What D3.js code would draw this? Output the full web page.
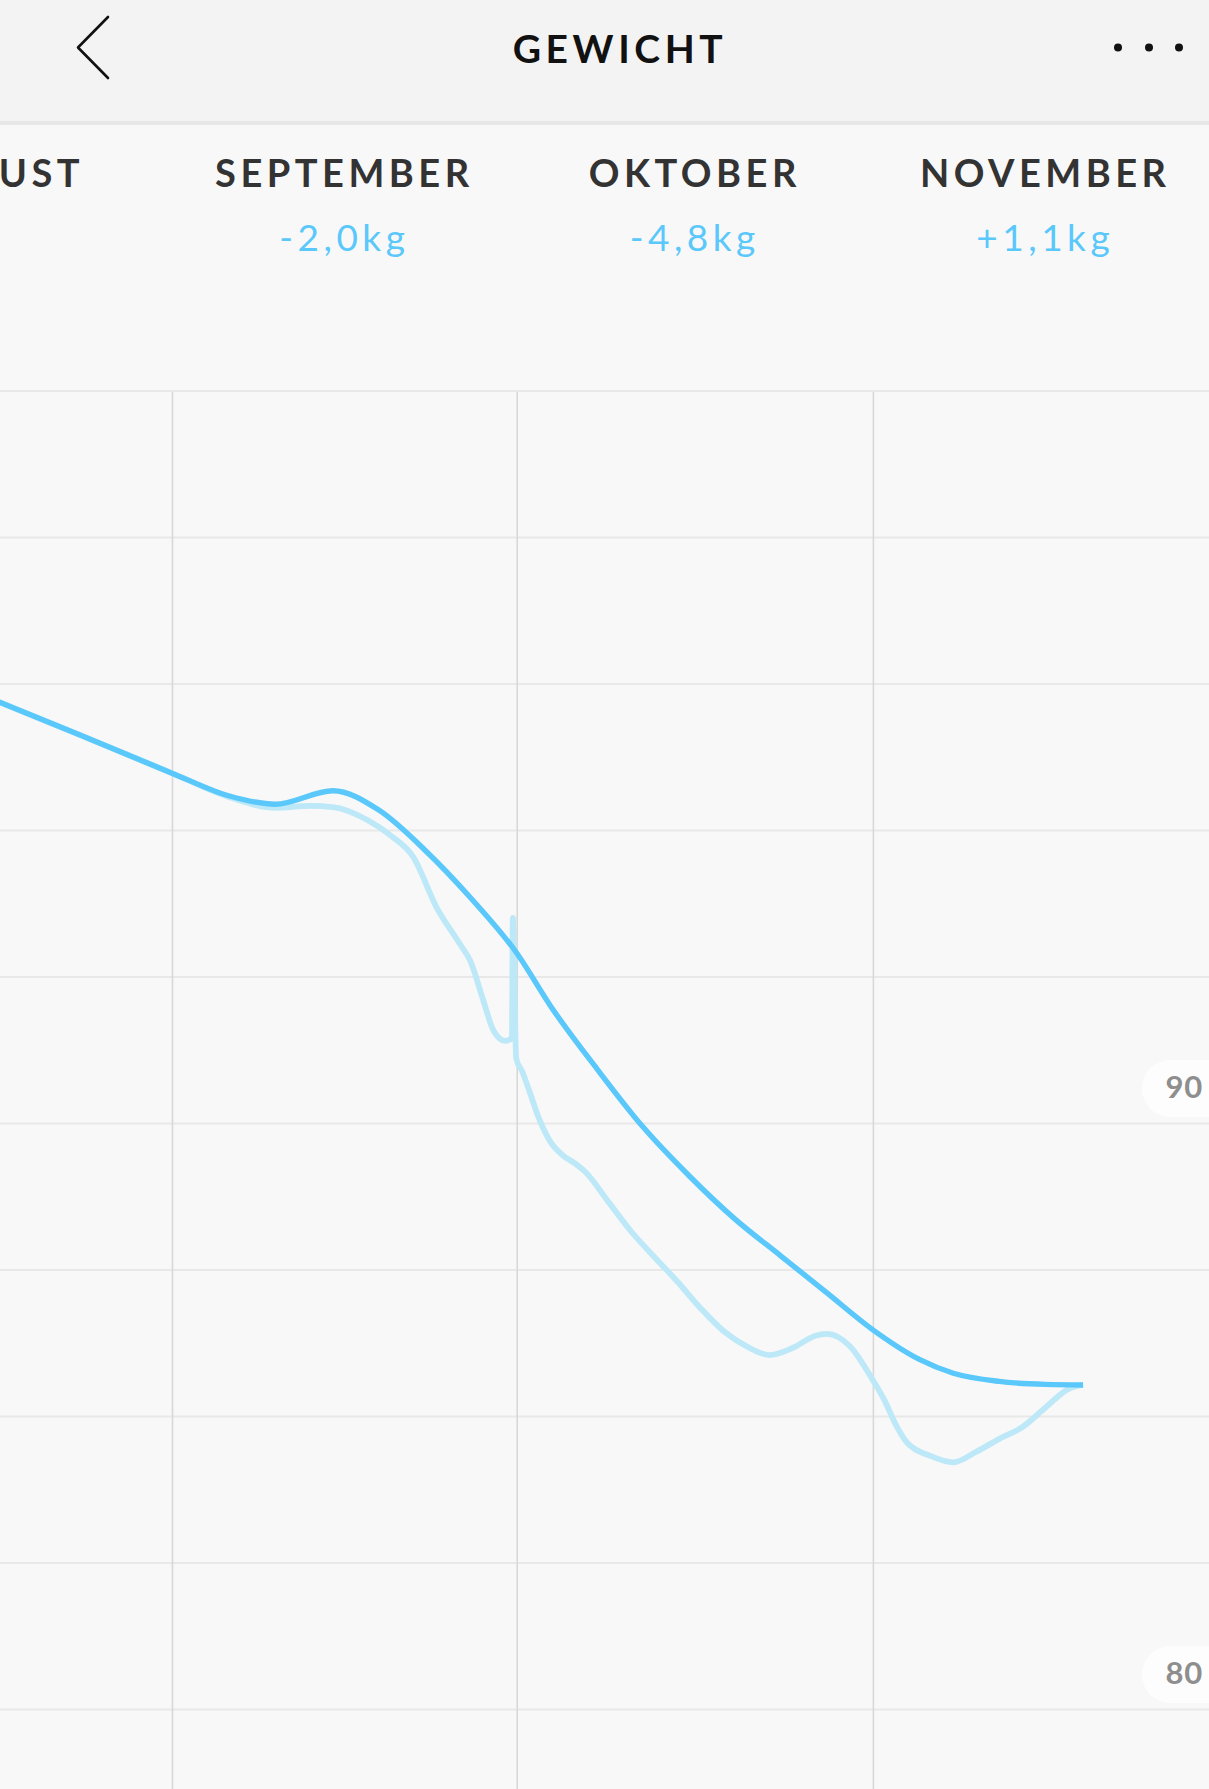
<!DOCTYPE html>
<html>
<head>
<meta charset="utf-8">
<script src="https://cdn.jsdelivr.net/npm/d3@7"></script>
<style>
  html, body {margin: 0; padding: 0; background: #f8f8f8; overflow: hidden;}
  svg {display: block;}
</style>
</head>
<body>
<div id="chart"></div>
<script>
// months shown in the header strip
const months = ["AUGUST", "SEPTEMBER", "OKTOBER", "NOVEMBER"]
const month_starts = ["2018-08-01", "2018-09-01", "2018-10-01", "2018-11-01"]
const month_deltas = ["", "-2,0kg", "-4,8kg", "+1,1kg"]

// y grid every 2.5 kg, labels every 10
const y_grid_ticks = [77.5, 80, 82.5, 85, 87.5, 90, 92.5, 95, 97.5, 100, 102.5]
const y_label_ticks = [80, 90]

// trend line (dark)
const trend_dates = ["2018-08-14", "2018-08-24", "2018-09-01", "2018-09-06", "2018-09-10", "2018-09-15",
  "2018-09-19", "2018-09-23", "2018-09-27", "2018-10-01", "2018-10-04", "2018-10-08", "2018-10-12",
  "2018-10-16", "2018-10-20", "2018-10-24", "2018-10-28", "2018-11-01", "2018-11-05", "2018-11-08",
  "2018-11-12", "2018-11-16", "2018-11-19 07:00"]
const trend_values = [97.42, 96.62, 95.97, 95.58, 95.44, 95.67,
  95.34, 94.66, 93.84, 92.90, 91.98, 90.92, 89.93,
  89.10, 88.36, 87.73, 87.10, 86.47, 85.97, 85.73,
  85.59, 85.54, 85.53]

// measured weight (light)
const weight_dates = ["2018-08-14", "2018-08-24", "2018-09-01", "2018-09-06", "2018-09-10", "2018-09-13",
  "2018-09-15", "2018-09-18", "2018-09-20", "2018-09-22", "2018-09-24", "2018-09-26", "2018-09-27",
  "2018-09-28", "2018-09-29", "2018-09-30", "2018-09-30 14:00", "2018-09-30 16:00", "2018-09-30 23:00",
  "2018-10-01 12:00", "2018-10-02", "2018-10-03", "2018-10-04", "2018-10-05", "2018-10-06", "2018-10-07",
  "2018-10-09", "2018-10-11", "2018-10-13", "2018-10-15", "2018-10-17", "2018-10-19", "2018-10-21",
  "2018-10-23", "2018-10-25", "2018-10-27", "2018-10-28", "2018-10-30", "2018-11-01", "2018-11-02",
  "2018-11-03", "2018-11-04", "2018-11-06", "2018-11-08", "2018-11-10", "2018-11-12", "2018-11-14",
  "2018-11-16", "2018-11-18", "2018-11-19 07:00"]
const weight_values = [97.42, 96.62, 95.97, 95.56, 95.38, 95.41,
  95.39, 95.17, 94.91, 94.54, 93.69, 93.07, 92.75,
  92.15, 91.57, 91.40, 91.45, 93.50, 91.10,
  90.87, 90.60, 90.05, 89.66, 89.45, 89.32, 89.16,
  88.65, 88.14, 87.71, 87.29, 86.84, 86.45, 86.19,
  86.04, 86.16, 86.37, 86.40, 86.19, 85.61, 85.27,
  84.85, 84.54, 84.32, 84.21, 84.39, 84.61, 84.81,
  85.14, 85.46, 85.53]

const width = 1209, height = 1789,
  header_h = 121,
  plot_top = 392,
  blue = "#5ac8fa",
  blue_light = "#bde8f8",
  font = "Lato, 'Open Sans', sans-serif"

const parseDate = s => d3.utcParse(s.length > 10 ? "%Y-%m-%d %H:%M" : "%Y-%m-%d")(s)

const x = d3.scaleUtc()
  .domain([parseDate("2018-09-01"), parseDate("2018-12-01")])
  .range([172, 1217.6])

const y = d3.scaleLinear()
  .domain([80, 90])
  .range([1709, 1123])

const svg = d3.select("#chart").append("svg")
  .attr("width", width)
  .attr("height", height)

svg.append("rect").attr("width", width).attr("height", height).attr("fill", "#f8f8f8")

drawGrid()
drawLines()
drawYLabels()
drawMonthStrip()
drawHeader()

function drawHeader() {
  const g = svg.append("g").attr("class", "header")
  g.append("rect").attr("width", width).attr("height", header_h).attr("fill", "#f3f3f3")
  g.append("rect").attr("y", header_h).attr("width", width).attr("height", 4).attr("fill", "#e7e7e7")

  g.append("path")
    .attr("d", "M108,17 L78,47.5 L108,78")
    .attr("fill", "none").attr("stroke", "#111").attr("stroke-width", 2.6)
    .attr("stroke-linejoin", "round").attr("stroke-linecap", "round")

  g.append("text")
    .attr("x", 620).attr("y", 63)
    .attr("text-anchor", "middle")
    .style("font-family", font).style("font-weight", 700).style("font-size", "39px")
    .style("letter-spacing", "4.6px")
    .attr("fill", "#111")
    .text("GEWICHT")

  g.selectAll("circle.dot").data([1118, 1149, 1179]).enter().append("circle")
    .attr("class", "dot")
    .attr("cx", d => d).attr("cy", 47.5).attr("r", 4)
    .attr("fill", "#111")
}

function drawMonthStrip() {
  const g = svg.append("g").attr("class", "months"),
    starts = month_starts.map(parseDate),
    centers = starts.map(d => (x(d) + x(d3.utcMonth.offset(d, 1))) / 2)

  g.selectAll("text.month").data(months).enter().append("text")
    .attr("class", "month")
    .attr("x", (d, i) => centers[i]).attr("y", 187)
    .attr("text-anchor", "middle")
    .style("font-family", font).style("font-weight", 700).style("font-size", "38px")
    .style("letter-spacing", "4.5px")
    .attr("fill", "#333")
    .text(d => d)

  g.selectAll("text.delta").data(month_deltas).enter().append("text")
    .attr("class", "delta")
    .attr("x", (d, i) => centers[i]).attr("y", 251)
    .attr("text-anchor", "middle")
    .style("font-family", font).style("font-weight", 400).style("font-size", "37px")
    .style("letter-spacing", "4.5px")
    .attr("fill", blue)
    .text(d => d)
}

function drawGrid() {
  const g = svg.append("g").attr("class", "grid")

  g.append("g")
    .call(d3.axisLeft(y).tickValues(y_grid_ticks).tickSize(-width).tickFormat(""))
    .call(a => a.select(".domain").remove())
    .call(a => a.selectAll("line").attr("stroke", "#e8e8e8").attr("stroke-width", 2))
    .call(a => a.selectAll(".tick").filter(d => y(d) < plot_top - 5).remove())

  const month_lines = d3.utcMonth.range(parseDate("2018-08-01"), parseDate("2018-12-31"))
  g.append("g")
    .attr("transform", `translate(0,${plot_top})`)
    .call(d3.axisBottom(x).tickValues(month_lines).tickSize(height - plot_top).tickFormat(""))
    .call(a => a.select(".domain").remove())
    .call(a => a.selectAll("line").attr("stroke", "#d8d8d8").attr("stroke-width", 1.6))
}

function drawLines() {
  svg.append("clipPath").attr("id", "plot_clip")
    .append("rect").attr("x", 0).attr("y", plot_top).attr("width", width).attr("height", height - plot_top)

  const g = svg.append("g").attr("clip-path", "url(#plot_clip)"),
    line = d3.line().x(d => x(d.date)).y(d => y(d.value)).curve(d3.curveMonotoneX),
    weight = weight_dates.map((d, i) => ({date: parseDate(d), value: weight_values[i]})),
    trend = trend_dates.map((d, i) => ({date: parseDate(d), value: trend_values[i]}))

  g.append("path").datum(weight)
    .attr("d", line)
    .attr("fill", "none").attr("stroke", blue_light).attr("stroke-width", 5.8)
    .attr("stroke-linejoin", "round")

  g.append("path").datum(trend)
    .attr("d", line)
    .attr("fill", "none").attr("stroke", blue).attr("stroke-width", 5.4)
    .attr("stroke-linecap", "butt")
}

function drawYLabels() {
  const g = svg.append("g").attr("class", "y_labels")
  const tick = g.selectAll("g.ylab").data(y_label_ticks).enter().append("g")
    .attr("class", "ylab")
    .attr("transform", d => `translate(0,${y(d)})`)

  tick.append("rect")
    .attr("x", 1142).attr("y", -63).attr("width", 110).attr("height", 57).attr("rx", 28.5)
    .attr("fill", "#fdfdfd")

  tick.append("text")
    .attr("x", 1203).attr("y", -25)
    .attr("text-anchor", "end")
    .style("font-family", font).style("font-weight", 700).style("font-size", "31px")
    .style("letter-spacing", "0.8px")
    .attr("fill", "#8e8e8e")
    .text(d => d)
}
</script>
</body>
</html>
